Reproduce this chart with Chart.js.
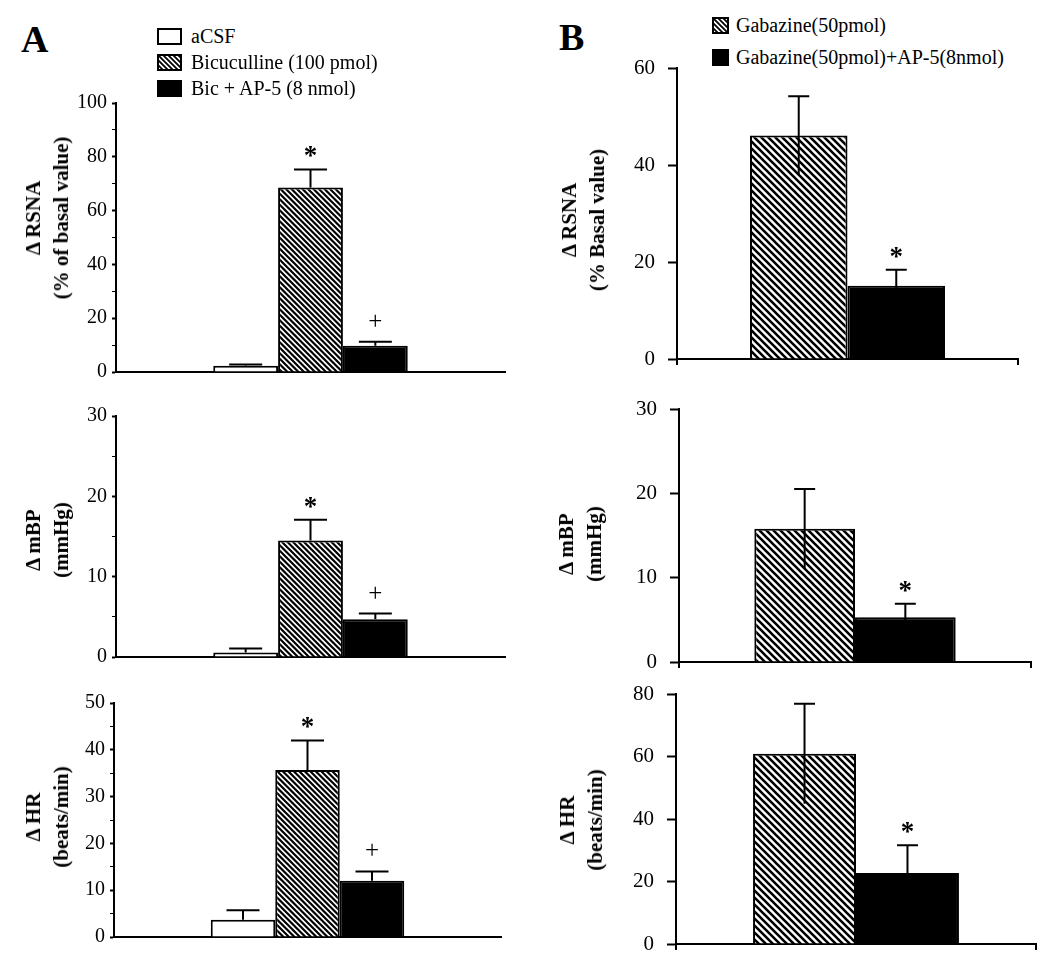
<!DOCTYPE html>
<html>
<head>
<meta charset="utf-8">
<script src="https://cdn.jsdelivr.net/npm/chart.js@4"></script>
<style>
  body { margin: 0; background: #fff; width: 1050px; height: 965px; position: relative; overflow: hidden;
         font-family: 'Liberation Serif', 'Times New Roman', serif; color: #000; }
  canvas.panel { position: absolute; }
  .letter { position: absolute; font-weight: bold; font-size: 38px; line-height: 1; }
  .legend { position: absolute; font-size: 20px; white-space: nowrap; }
  .legend .row { position: absolute; left: 0; display: flex; align-items: center; height: 24px; }
  .legend canvas { display: block; }
  .ytitle { position: absolute; font-weight: bold; font-size: 21px; line-height: 28px; text-align: center;
            white-space: nowrap; transform: translate(-50%, -50%) rotate(-90deg); }
</style>
</head>
<body>
<div class="letter" style="left:21px;top:20px">A</div>
<div class="letter" style="left:559px;top:18px">B</div>
<div id="legendA" class="legend" style="left:157px;top:0px"></div>
<div id="legendB" class="legend" style="left:712px;top:0px"></div>

<script>
// ---- data ----
const groupsA = ['aCSF', 'Bicuculline (100 pmol)', 'Bic + AP-5 (8 nmol)'];
const rsnaA = [2.3, 68.6, 9.8];
const rsnaErrA = [0.5, 6.7, 1.4];
const mbpA = [0.55, 14.5, 4.7];
const mbpErrA = [0.5, 2.6, 0.7];
const hrA = [3.7, 35.7, 12.0];
const hrErrA = [2.0, 6.3, 2.0];
const marksA = ['', '*', '+'];

const groupsB = ['Gabazine(50pmol)', 'Gabazine(50pmol)+AP-5(8nmol)'];
const rsnaB = [46.1, 15.1];
const rsnaErrB = [8.1, 3.3];
const mbpB = [15.8, 5.3];
const mbpErrB = [4.7, 1.6];
const hrB = [60.9, 22.7];
const hrErrB = [16.0, 8.9];
const marksB = ['', '*'];

// y axis ranges: [max, tick step, label step]
const rsnaAxisA = [100, 10, 20];
const mbpAxisA = [30, 5, 10];
const hrAxisA = [50, 5, 10];
const rsnaAxisB = [60, 20, 20];
const mbpAxisB = [30, 10, 10];
const hrAxisB = [80, 20, 20];

const titleRsnaA = ['\u0394 RSNA', '(% of basal value)'];
const titleRsnaB = ['\u0394 RSNA', '(% Basal value)'];
const titleMbp = ['\u0394 mBP', '(mmHg)'];
const titleHr = ['\u0394 HR', '(beats/min)'];

const SERIF = "'Liberation Serif', 'Times New Roman', serif";
Chart.defaults.color = '#000';
Chart.defaults.font.family = SERIF;

// diagonal "\" hatch
function hatch(tile, period, lw) {
  const c = document.createElement('canvas');
  c.width = c.height = tile;
  const g = c.getContext('2d');
  g.fillStyle = '#fff';
  g.fillRect(0, 0, tile, tile);
  g.strokeStyle = '#000';
  g.lineWidth = lw;
  g.beginPath();
  for (let k = -tile; k <= tile; k += period) {
    g.moveTo(-2, k - 2);
    g.lineTo(tile + 2, tile + k + 2);
  }
  g.stroke();
  return g.createPattern(c, 'repeat');
}
const hatchA = hatch(11, 5.5, 2.2);
const hatchB = hatch(7, 7, 2.6);
const fillsA = ['#fff', hatchA, '#000'];
const fillsB = [hatchB, '#000'];

// error bars + significance marks, drawn through the y scale
const errorBars = {
  id: 'errorBars',
  afterDatasetsDraw(chart, args, o) {
    const { ctx, scales: { y } } = chart;
    ctx.save();
    ctx.strokeStyle = '#000';
    ctx.lineWidth = 2;
    chart.data.datasets.forEach((ds, i) => {
      const bar = chart.getDatasetMeta(i).data[0];
      const v = ds.data[0], e = o.errors[i];
      const yTop = y.getPixelForValue(v + e);
      const yLow = y.getPixelForValue(o.both ? v - e : v);
      ctx.beginPath();
      ctx.moveTo(bar.x, yLow);
      ctx.lineTo(bar.x, yTop);
      ctx.moveTo(bar.x - o.cap / 2, yTop);
      ctx.lineTo(bar.x + o.cap / 2, yTop);
      ctx.stroke();
      const m = o.marks[i];
      if (m) {
        ctx.fillStyle = '#000';
        ctx.textAlign = 'center';
        ctx.textBaseline = 'alphabetic';
        ctx.font = m === '*' ? 'bold 27px ' + SERIF : '25px ' + SERIF;
        ctx.fillText(m, bar.x, yTop - (m === '*' ? 5 : 13));
      }
    });
    ctx.restore();
  }
};

// room kept around the plot area (larger than the tick label overhang)
const AXW = 80, PADT = 32, AXH = 32, PADR = 4;

function panel(p) {
  const cx = p.left - AXW, cy = p.top - PADT;
  const cw = p.right + PADR - cx, ch = p.bottom + AXH - cy;
  const cv = document.createElement('canvas');
  cv.className = 'panel';
  cv.width = cw; cv.height = ch;
  cv.style.left = cx + 'px';
  cv.style.top = cy + 'px';
  document.body.appendChild(cv);

  const t = document.createElement('div');
  t.className = 'ytitle';
  t.style.left = p.tx + 'px';
  t.style.top = p.ty + 'px';
  t.innerHTML = p.title.join('<br>');
  document.body.appendChild(t);

  const [max, step, lab] = p.axis;
  new Chart(cv, {
    type: 'bar',
    data: {
      labels: [''],
      datasets: p.groups.map((g, i) => ({
        label: g,
        data: [p.values[i]],
        backgroundColor: p.fills[i],
        borderColor: '#000',
        borderWidth: 2
      }))
    },
    options: {
      responsive: false,
      animation: false,
      devicePixelRatio: 1,
      layout: { padding: { top: PADT, right: PADR, left: 0, bottom: 0 } },
      datasets: { bar: { categoryPercentage: p.catPct, barPercentage: 1 } },
      plugins: {
        legend: { display: false },
        tooltip: { enabled: false },
        errorBars: { errors: p.errors, marks: p.marks, both: p.both, cap: p.cap }
      },
      scales: {
        x: {
          ticks: { display: false },
          grid: { display: p.endTicks, drawOnChartArea: false, drawTicks: true, tickLength: 6, color: '#000', lineWidth: 2 },
          border: { display: true, color: '#000', width: 2 },
          afterFit: s => { s.height = AXH; }
        },
        y: {
          min: 0, max: max,
          ticks: {
            stepSize: step,
            autoSkip: false,
            padding: p.tickPad,
            font: { size: p.tickFont },
            callback: v => (Math.round(v) % lab === 0 ? v : '')
          },
          grid: {
            drawOnChartArea: false, drawTicks: true, tickLength: p.tickLen,
            tickColor: '#000',
            tickWidth: c => (c.tick && c.tick.value % lab === 0 ? 2 : 1)
          },
          border: { display: true, color: '#000', width: 2 },
          afterFit: s => { s.width = AXW; }
        }
      }
    },
    plugins: [errorBars]
  });
}

const baseA = { groups: groupsA, fills: fillsA, marks: marksA, both: false, cap: 33, catPct: 0.5,
                endTicks: false, tickLen: 4, tickPad: 5, tickFont: 20 };
const baseB = { groups: groupsB, fills: fillsB, marks: marksB, both: true, cap: 21, catPct: 0.572,
                endTicks: true, tickLen: 9, tickPad: 13, tickFont: 21 };

panel(Object.assign({}, baseA, { left: 116, top: 103, right: 505, bottom: 372, axis: rsnaAxisA,
  values: rsnaA, errors: rsnaErrA, title: titleRsnaA, tx: 47, ty: 218 }));
panel(Object.assign({}, baseA, { left: 116, top: 416, right: 505, bottom: 657, axis: mbpAxisA,
  values: mbpA, errors: mbpErrA, title: titleMbp, tx: 47, ty: 540 }));
panel(Object.assign({}, baseA, { left: 114, top: 703, right: 501, bottom: 937, axis: hrAxisA,
  values: hrA, errors: hrErrA, title: titleHr, tx: 47, ty: 817 }));

panel(Object.assign({}, baseB, { left: 677, top: 68, right: 1018, bottom: 359, axis: rsnaAxisB,
  values: rsnaB, errors: rsnaErrB, title: titleRsnaB, tx: 583, ty: 220 }));
panel(Object.assign({}, baseB, { left: 679, top: 409, right: 1031, bottom: 662, axis: mbpAxisB,
  values: mbpB, errors: mbpErrB, title: titleMbp, tx: 580, ty: 544 }));
panel(Object.assign({}, baseB, { left: 676, top: 694, right: 1036, bottom: 944, axis: hrAxisB,
  values: hrB, errors: hrErrB, title: titleHr, tx: 581, ty: 820 }));

// legends
function legend(el, groups, fills, w, h, rowY, period) {
  groups.forEach((g, i) => {
    const row = document.createElement('div');
    row.className = 'row';
    row.style.top = (rowY[i] - 12) + 'px';
    const sw = document.createElement('canvas');
    sw.width = w; sw.height = h;
    const g2 = sw.getContext('2d');
    g2.fillStyle = fills[i] === '#fff' || fills[i] === '#000' ? fills[i] : hatch(period * 2, period, 1.8);
    g2.fillRect(0, 0, w, h);
    g2.strokeStyle = '#000';
    g2.lineWidth = 2;
    g2.strokeRect(1, 1, w - 2, h - 2);
    const txt = document.createElement('span');
    txt.textContent = g;
    txt.style.marginLeft = (el.id === 'legendA' ? 9 : 7) + 'px';
    row.appendChild(sw);
    row.appendChild(txt);
    el.appendChild(row);
  });
}
legend(document.getElementById('legendA'), groupsA, fillsA, 25, 17, [36, 62, 88], 5);
legend(document.getElementById('legendB'), groupsB, fillsB, 17, 17, [25, 57], 5);
</script>
</body>
</html>
